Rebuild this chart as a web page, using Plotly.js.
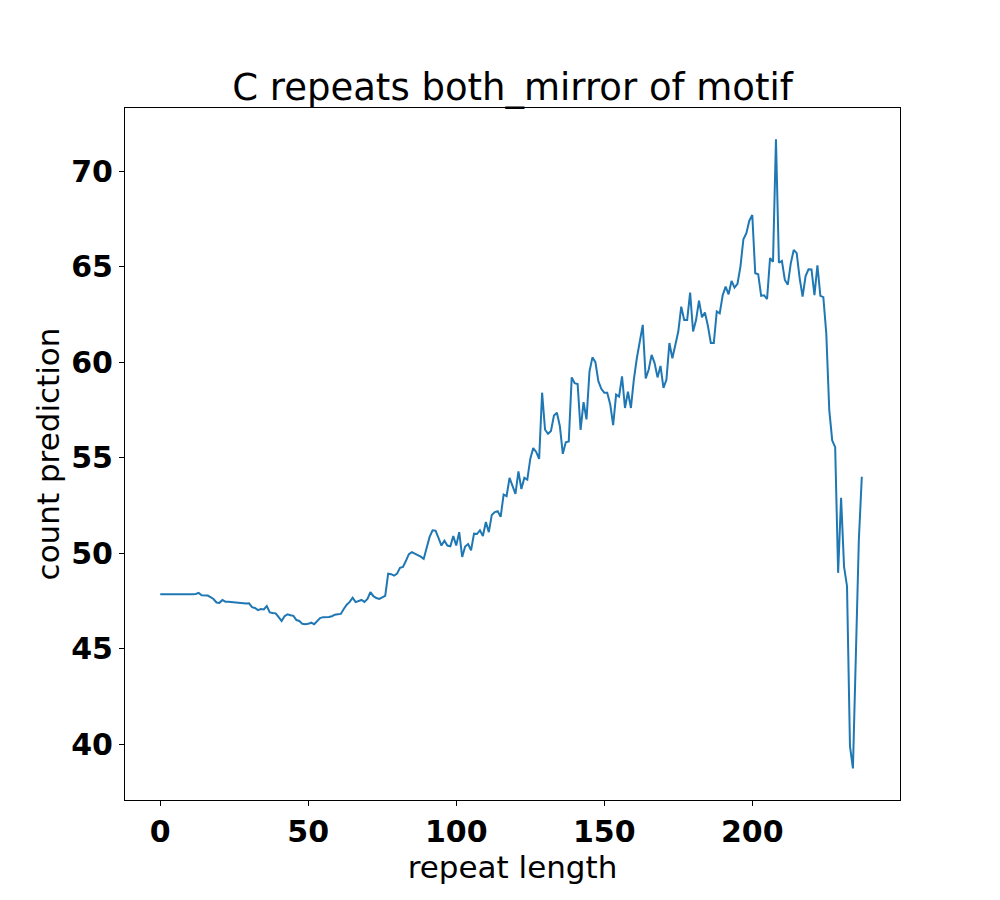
<!DOCTYPE html>
<html>
<head>
<meta charset="utf-8">
<script src="https://cdn.plot.ly/plotly-3.0.1.min.js"></script>
<style>html,body{margin:0;padding:0;background:#fff;}#chart{width:1000px;height:900px;}</style>
</head>
<body>
<div id="chart"></div>
<script>
const chartTitle = "C repeats both_mirror of motif";
const xLabel = "repeat length";
const yLabel = "count prediction";
const xTickVals = [0, 50, 100, 150, 200];
const yTickVals = [40, 45, 50, 55, 60, 65, 70];

const countPrediction = [
  47.85, 47.85, 47.85, 47.84, 47.84, 47.83, 47.83, 47.82, 47.82, 47.83,
  47.84, 47.85, 47.86, 47.92, 47.80, 47.80, 47.78, 47.70, 47.60, 47.42,
  47.40, 47.55, 47.46, 47.46, 47.44, 47.42, 47.40, 47.38, 47.37, 47.36,
  47.37, 47.17, 47.13, 47.02, 47.08, 47.05, 47.23, 46.90, 46.87, 46.85,
  46.65, 46.45, 46.70, 46.80, 46.75, 46.72, 46.50, 46.45, 46.30, 46.28,
  46.30, 46.36, 46.28, 46.42, 46.60, 46.65, 46.65, 46.66, 46.70, 46.78,
  46.80, 46.82, 47.08, 47.30, 47.45, 47.67, 47.44, 47.50, 47.55, 47.45,
  47.60, 47.96, 47.75, 47.65, 47.60, 47.68, 47.76, 48.93, 48.90, 48.82,
  48.93, 49.23, 49.28, 49.60, 49.95, 50.05, 49.98, 49.92, 49.82, 49.70,
  50.36, 50.85, 51.20, 51.18, 50.80, 50.40, 50.65, 50.40, 50.36, 50.90,
  50.40, 51.10, 49.80, 50.35, 50.48, 50.15, 51.02, 51.00, 51.20, 50.90,
  51.63, 51.10, 52.00, 52.15, 52.20, 51.90, 53.07, 52.98, 53.94, 53.50,
  53.10, 54.28, 53.36, 53.94, 53.85, 54.93, 55.50, 55.30, 54.93, 58.40,
  56.46, 56.25, 56.40, 57.20, 57.35, 56.65, 55.20, 55.80, 55.85, 59.20,
  58.90, 58.85, 56.45, 57.90, 57.00, 59.50, 60.25, 60.00, 59.00, 58.60,
  58.40, 58.40, 57.80, 56.70, 58.30, 58.20, 59.25, 57.60, 58.45, 57.60,
  59.10, 60.20, 61.20, 61.95, 59.15, 59.60, 60.38, 59.95, 59.20, 59.80,
  58.65, 59.07, 61.00, 60.20, 60.90, 61.60, 62.90, 62.20, 62.20, 63.64,
  61.60, 62.20, 63.22, 62.35, 62.60, 61.90, 61.00, 61.00, 62.65, 62.55,
  63.50, 63.95, 63.55, 64.25, 63.90, 64.10, 65.00, 66.43, 66.75, 67.40,
  67.70, 64.65, 64.60, 63.47, 63.50, 63.30, 65.44, 65.25, 71.66, 65.20,
  65.30, 64.30, 64.05, 65.17, 65.87, 65.70, 64.40, 63.43, 64.50, 64.86,
  64.85, 63.50, 65.07, 63.47, 63.40, 61.50, 57.50, 55.90, 55.55, 48.97,
  52.90, 49.30, 48.27, 39.90, 38.73, 44.70, 50.70, 54.00
];
const repeatLength = countPrediction.map((_, i) => i);

const tickFont = {family: "DejaVu Sans", size: 30, color: "#000", weight: "bold"};
const labelFont = {family: "DejaVu Sans", size: 31, color: "#000"};

const trace = {
  x: repeatLength,
  y: countPrediction,
  type: "scatter",
  mode: "lines",
  line: {color: "#1f77b4", width: 2},
  hoverinfo: "x+y"
};

const layout = {
  width: 1000,
  height: 900,
  paper_bgcolor: "#fff",
  plot_bgcolor: "#fff",
  showlegend: false,
  margin: {l: 125, r: 100, t: 108, b: 100, pad: 0},
  title: {
    text: chartTitle,
    font: {family: "DejaVu Sans", size: 37, color: "#000"},
    x: 0.5125, xref: "container", xanchor: "center",
    y: 1 - 87/900, yref: "container", yanchor: "middle"
  },
  xaxis: {
    range: [-11.9, 249.9],
    tickvals: xTickVals,
    ticktext: xTickVals.map(String),
    ticks: "outside", ticklen: 5, tickwidth: 1, tickcolor: "#000",
    tickfont: tickFont,
    showline: true, linecolor: "#000", linewidth: 1, mirror: true,
    showgrid: false, zeroline: false,
    title: {text: xLabel, font: labelFont, standoff: 2}
  },
  yaxis: {
    range: [37.08, 73.3],
    tickvals: yTickVals,
    ticktext: yTickVals.map(String),
    ticks: "outside", ticklen: 5, tickwidth: 1, tickcolor: "#000",
    tickfont: tickFont,
    showline: true, linecolor: "#000", linewidth: 1, mirror: true,
    showgrid: false, zeroline: false,
    title: {text: yLabel, font: labelFont, standoff: 2}
  }
};

Plotly.newPlot("chart", [trace], layout, {displayModeBar: false, staticPlot: false});
</script>
</body>
</html>
